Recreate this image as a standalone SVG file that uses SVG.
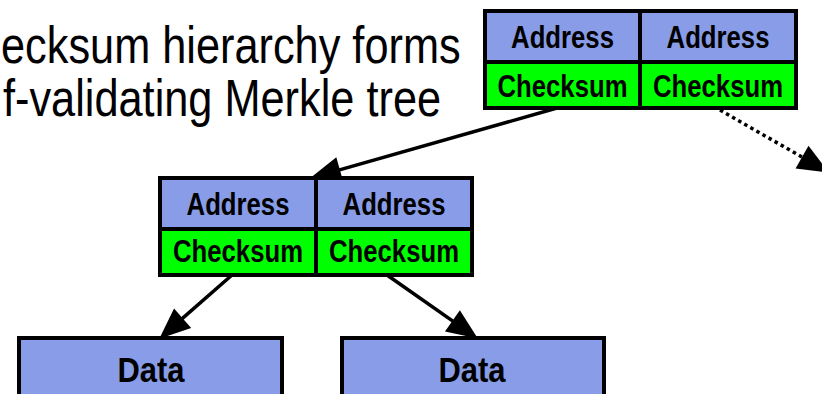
<svg xmlns="http://www.w3.org/2000/svg" width="822" height="394" viewBox="0 0 822 394">
<style>
.blue{fill:#889CE8;stroke:#000;stroke-width:4}
.green{fill:#00FF00;stroke:#000;stroke-width:4}
.lbl{font-family:"Liberation Sans",Arial,sans-serif;font-weight:bold;font-size:31px;text-anchor:middle;fill:#000}
.data{font-family:"Liberation Sans",Arial,sans-serif;font-weight:bold;font-size:36px;text-anchor:middle;fill:#000}
.title{font-family:"Liberation Sans",Arial,sans-serif;font-size:52px;fill:#000}
.conn{stroke:#000;stroke-width:3.5;fill:none}
.dot{stroke-dasharray:3.5,3.5}
</style>
<defs>
<marker id="ah" markerUnits="userSpaceOnUse" markerWidth="31" markerHeight="26" refX="4" refY="13" orient="auto" overflow="visible">
<path d="M0,0 L31,13 L0,26 z" fill="#000"/>
</marker>
</defs>
<g id="title">
<text class="title" transform="translate(1,63) scale(0.833,1)">ecksum hierarchy forms</text>
<text class="title" transform="translate(3,116) scale(0.833,1)">f-validating Merkle tree</text>
</g>
<g id="connectors">
<line class="conn" x1="557" y1="108" x2="336" y2="170.9" marker-end="url(#ah)"/>
<line class="conn" x1="232" y1="275" x2="179.6" y2="320.9" marker-end="url(#ah)"/>
<line class="conn" x1="387" y1="275" x2="455.7" y2="323.1" marker-end="url(#ah)"/>
<line class="conn dot" x1="720" y1="110" x2="805.5" y2="159.1" marker-end="url(#ah)"/>
</g>
<g id="node-top">
<rect class="blue" x="485" y="11" width="155" height="51"/>
<rect class="blue" x="640" y="11" width="156" height="51"/>
<rect class="green" x="485" y="62" width="155" height="46"/>
<rect class="green" x="640" y="62" width="156" height="46"/>
<text class="lbl" transform="translate(562.5,48) scale(0.83,1)">Address</text>
<text class="lbl" transform="translate(718,48) scale(0.83,1)">Address</text>
<text class="lbl" transform="translate(562.5,97) scale(0.83,1)">Checksum</text>
<text class="lbl" transform="translate(718,97) scale(0.83,1)">Checksum</text>
</g>
<g id="node-mid">
<rect class="blue" x="160" y="178" width="156" height="51"/>
<rect class="blue" x="316" y="178" width="156" height="51"/>
<rect class="green" x="160" y="229" width="156" height="46"/>
<rect class="green" x="316" y="229" width="156" height="46"/>
<text class="lbl" transform="translate(238,215) scale(0.83,1)">Address</text>
<text class="lbl" transform="translate(394,215) scale(0.83,1)">Address</text>
<text class="lbl" transform="translate(238,262) scale(0.83,1)">Checksum</text>
<text class="lbl" transform="translate(394,262) scale(0.83,1)">Checksum</text>
</g>
<g id="data-left">
<rect class="blue" x="19" y="338" width="263" height="70"/>
<text class="data" transform="translate(151,382) scale(0.86,1)">Data</text>
</g>
<g id="data-right">
<rect class="blue" x="342" y="338" width="262" height="70"/>
<text class="data" transform="translate(472,382) scale(0.86,1)">Data</text>
</g>
</svg>
